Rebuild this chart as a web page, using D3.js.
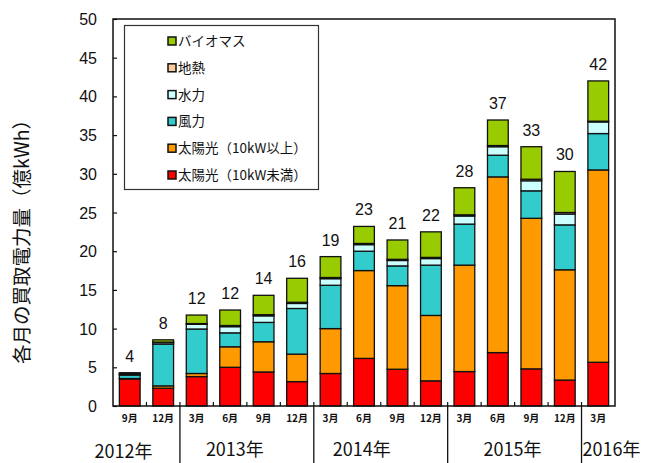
<!DOCTYPE html>
<html>
<head>
<meta charset="utf-8">
<script src="https://cdn.jsdelivr.net/npm/d3@7"></script>
<style>
  html, body { margin: 0; padding: 0; background: #fff; }
  svg { display: block; }
  text { fill: #111; }
  .num { font-family: "Liberation Sans", Arial, sans-serif; }
  .jp { font-family: "Noto Sans CJK JP", "Noto Sans", sans-serif; }
</style>
</head>
<body>
<svg id="chart" width="646" height="463"></svg>
<script>
// months shown under each bar, and the year each bar belongs to
var months = ['9月', '12月', '3月', '6月', '9月', '12月', '3月', '6月', '9月', '12月', '3月', '6月', '9月', '12月', '3月'];
var years  = ['2012年', '2013年', '2014年', '2015年', '2016年'];
var yearOf = [0, 0, 1, 1, 1, 1, 2, 2, 2, 2, 3, 3, 3, 3, 4];

// series (億kWh), bottom to top of the stack
var solarSmall = [3.5, 2.3, 3.8, 5.0, 4.4, 3.15, 4.2, 6.15, 4.75, 3.25, 4.45, 6.9, 4.8, 3.35, 5.65];
var solarLarge = [0.05, 0.3, 0.4, 2.65, 3.9, 3.55, 5.8, 11.35, 10.8, 8.45, 13.75, 22.7, 19.45, 14.25, 24.85];
var wind       = [0.45, 5.4, 5.75, 1.8, 2.5, 5.9, 5.6, 2.5, 2.55, 6.5, 5.3, 2.8, 3.55, 5.8, 4.7];
var hydro      = [0.1, 0.2, 0.6, 0.8, 0.85, 0.65, 0.85, 0.85, 0.7, 0.85, 1.05, 1.1, 1.3, 1.4, 1.5];
var geothermal = [0.05, 0.05, 0.1, 0.15, 0.15, 0.15, 0.15, 0.15, 0.15, 0.15, 0.15, 0.15, 0.2, 0.2, 0.1];
var biomass    = [0.15, 0.3, 1.1, 2.0, 2.5, 3.1, 2.7, 2.2, 2.5, 3.3, 3.5, 3.3, 4.2, 5.3, 5.2];

// labels printed above the bars
var totalLabels = ['4', '8', '12', '12', '14', '16', '19', '23', '21', '22', '28', '37', '33', '30', '42'];

var seriesKeys   = ['solarSmall', 'solarLarge', 'wind', 'hydro', 'geothermal', 'biomass'];
var seriesNames  = ['太陽光（10kW未満）', '太陽光（10kW以上）', '風力', '水力', '地熱', 'バイオマス'];
var seriesColors = ['#ff0000', '#ff9900', '#33cccc', '#ccffff', '#ffcc99', '#99cc00'];

var yTicks = [0, 5, 10, 15, 20, 25, 30, 35, 40, 45, 50];

// build rows for d3.stack
var rows = months.map(function(m, i) {
  return {
    idx: i,
    solarSmall: solarSmall[i], solarLarge: solarLarge[i], wind: wind[i],
    hydro: hydro[i], geothermal: geothermal[i], biomass: biomass[i]
  };
});

var svg = d3.select('#chart');
var plot = {left: 113, right: 615, top: 19, bottom: 406};

var x = d3.scaleBand()
  .domain(d3.range(months.length))
  .range([plot.left, plot.right])
  .paddingInner(0.38)
  .paddingOuter(0.19);

var y = d3.scaleLinear().domain([0, 50]).range([plot.bottom, plot.top]);

var color = d3.scaleOrdinal().domain(seriesKeys).range(seriesColors);

// stacked bars
var stacked = d3.stack().keys(seriesKeys)(rows);

svg.append('g').selectAll('g')
  .data(stacked)
  .join('g')
    .attr('fill', function(d) { return color(d.key); })
  .selectAll('rect')
  .data(function(d) { return d; })
  .join('rect')
    .attr('x', function(d) { return x(d.data.idx); })
    .attr('y', function(d) { return y(d[1]); })
    .attr('width', x.bandwidth())
    .attr('height', function(d) { return y(d[0]) - y(d[1]); })
    .attr('stroke', '#111')
    .attr('stroke-width', 1.3);

// totals above bars
var tops = rows.map(function(r) {
  return d3.sum(seriesKeys, function(k) { return r[k]; });
});
svg.append('g').selectAll('text')
  .data(totalLabels)
  .join('text')
    .attr('class', 'num')
    .attr('x', function(d, i) { return x(i) + x.bandwidth() / 2; })
    .attr('y', function(d, i) { return y(tops[i]) - 11; })
    .attr('text-anchor', 'middle')
    .attr('font-size', 16)
    .text(function(d) { return d; });

// frame
svg.append('rect')
  .attr('x', plot.left).attr('y', plot.top)
  .attr('width', plot.right - plot.left)
  .attr('height', plot.bottom - plot.top)
  .attr('fill', 'none')
  .attr('stroke', '#111')
  .attr('stroke-width', 1.5);

// y axis, ticks inward
var yAxis = svg.append('g')
  .attr('transform', 'translate(' + plot.left + ',0)')
  .call(d3.axisRight(y).tickValues(yTicks).tickSize(4).tickFormat(''));
yAxis.select('.domain').remove();
yAxis.selectAll('line').attr('stroke', '#111').attr('stroke-width', 1.2);

svg.append('g').selectAll('text')
  .data(yTicks)
  .join('text')
    .attr('class', 'num')
    .attr('x', 97)
    .attr('y', function(d) { return y(d) + 6; })
    .attr('text-anchor', 'end')
    .attr('font-size', 16)
    .text(function(d) { return d; });

// category boundary ticks on the x axis (pointing up)
var step = x.step();
var bounds = d3.range(1, months.length).map(function(i) { return plot.left + i * step; });
svg.append('g').selectAll('line')
  .data(bounds)
  .join('line')
    .attr('x1', function(d) { return d; }).attr('x2', function(d) { return d; })
    .attr('y1', plot.bottom).attr('y2', plot.bottom - 4)
    .attr('stroke', '#111').attr('stroke-width', 1.2);

// year separators below the axis
var yearStarts = d3.range(1, months.length).filter(function(i) { return yearOf[i] !== yearOf[i - 1]; });
svg.append('g').selectAll('line')
  .data(yearStarts)
  .join('line')
    .attr('x1', function(i) { return plot.left + i * step; })
    .attr('x2', function(i) { return plot.left + i * step; })
    .attr('y1', plot.bottom)
    .attr('y2', 463)
    .attr('stroke', '#111')
    .attr('stroke-width', 1.3);

// month labels
svg.append('g').selectAll('text')
  .data(months)
  .join('text')
    .attr('class', 'jp')
    .attr('x', function(d, i) { return x(i) + x.bandwidth() / 2; })
    .attr('y', 422)
    .attr('text-anchor', 'middle')
    .attr('font-size', 10)
    .attr('font-weight', 'bold')
    .text(function(d) { return d; });

// year labels, placed relative to their group of bars
var yearNudge = [-23, -12, -19, -2, 0];
svg.append('g').selectAll('text')
  .data(years)
  .join('text')
    .attr('class', 'jp')
    .attr('x', function(d, k) {
      var idx = d3.range(months.length).filter(function(i) { return yearOf[i] === k; });
      var a = plot.left + idx[0] * step, b = plot.left + (idx[idx.length - 1] + 1) * step;
      if (k === years.length - 1) return a + 1;
      return (a + b) / 2 + yearNudge[k];
    })
    .attr('y', function(d, k) { return k === 0 ? 458 : 456; })
    .attr('text-anchor', function(d, k) { return k === years.length - 1 ? 'start' : 'middle'; })
    .attr('font-size', 18)
    .text(function(d) { return d; });

// y axis title
svg.append('text')
  .attr('class', 'jp')
  .attr('transform', 'translate(29,237) rotate(-90)')
  .attr('text-anchor', 'middle')
  .attr('font-size', 19.5)
  .text('各月の買取電力量（億kWh）');

// legend
var legend = svg.append('g');
legend.append('rect')
  .attr('x', 124.5).attr('y', 25.5)
  .attr('width', 194).attr('height', 164)
  .attr('fill', '#fff')
  .attr('stroke', '#333')
  .attr('stroke-width', 1.2);

var legendOrder = seriesKeys.slice().reverse();
var item = legend.selectAll('g.item')
  .data(legendOrder)
  .join('g')
    .attr('class', 'item')
    .attr('transform', function(d, i) { return 'translate(168,' + (41 + i * 26.8) + ')'; });

item.append('rect')
  .attr('x', 0).attr('y', -4)
  .attr('width', 8).attr('height', 8)
  .attr('fill', function(d) { return color(d); })
  .attr('stroke', '#111')
  .attr('stroke-width', 1.5);

item.append('text')
  .attr('class', 'jp')
  .attr('x', 10)
  .attr('y', 5)
  .attr('font-size', 13.5)
  .text(function(d) { return seriesNames[seriesKeys.indexOf(d)]; });
</script>
</body>
</html>
